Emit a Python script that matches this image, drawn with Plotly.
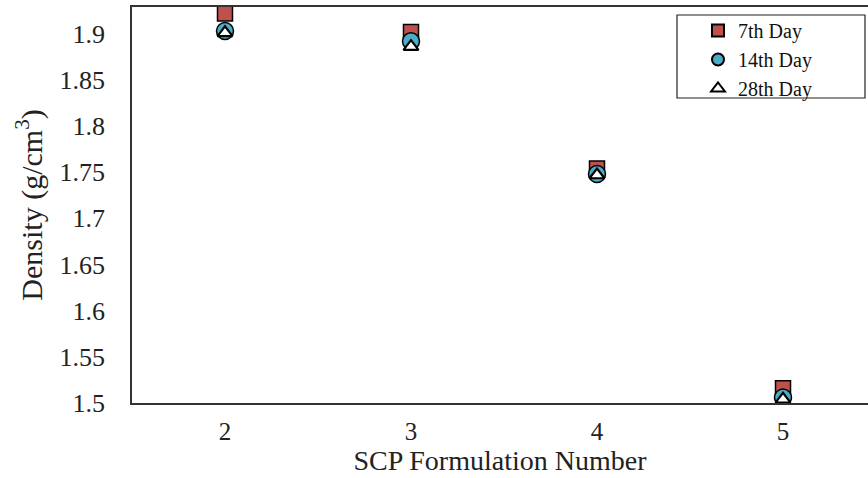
import plotly.graph_objects as go

formulation = [2, 3, 4, 5]
day7 = [1.922, 1.902, 1.754, 1.516]
day14 = [1.903, 1.892, 1.748, 1.506]
day28 = [1.901, 1.886, 1.747, 1.504]
yticks = [1.5, 1.55, 1.6, 1.65, 1.7, 1.75, 1.8, 1.85, 1.9]
yticklabels = ["1.5", "1.55", "1.6", "1.65", "1.7", "1.75", "1.8", "1.85", "1.9"]

font = "Liberation Serif, Times New Roman, serif"

fig = go.Figure()
fig.add_trace(go.Scatter(x=formulation, y=day7, mode="markers", name="7th Day",
                         marker=dict(symbol="square", size=15, color="#C0504D",
                                     line=dict(color="black", width=1.5))))
fig.add_trace(go.Scatter(x=formulation, y=day14, mode="markers", name="14th Day",
                         marker=dict(symbol="circle", size=17, color="#4BACC6",
                                     line=dict(color="black", width=1.5))))
fig.add_trace(go.Scatter(x=formulation, y=day28, mode="markers", name="28th Day",
                         marker=dict(symbol="triangle-up", size=13, color="white",
                                     line=dict(color="black", width=2.2))))

# legend frame (decorative box around the legend entries)
fig.add_shape(type="rect", xref="paper", yref="paper",
              x0=(677 - 132) / 736, x1=(865 - 132) / 736,
              y0=1 - (98 - 7) / 396, y1=1 - (15 - 7) / 396,
              line=dict(color="#222", width=1.2), fillcolor="white", layer="below")

fig.update_layout(
    width=868, height=478,
    margin=dict(l=132, r=0, t=7, b=75),
    paper_bgcolor="white", plot_bgcolor="white",
    font=dict(family=font, color="#222", size=26),
    showlegend=True,
    legend=dict(x=(698 - 132) / 736, y=0.99, xanchor="left", yanchor="top",
                borderwidth=0, bgcolor="rgba(0,0,0,0)",
                font=dict(family=font, size=20, color="#111"),
                tracegroupgap=0, itemsizing="constant"),
    xaxis=dict(range=[1.5, 5.457], tickvals=formulation, ticks="",
               showgrid=False, zeroline=False,
               showline=True, linecolor="#333", linewidth=1.5, mirror=True,
               title=dict(text="SCP Formulation Number", font=dict(size=28), standoff=4),
               tickfont=dict(size=25), ticklabelstandoff=5),
    yaxis=dict(range=[1.5, 1.929], tickvals=yticks, ticktext=yticklabels, ticks="",
               showgrid=False, zeroline=False,
               showline=True, linecolor="#333", linewidth=1.5,
               title=dict(text="Density (g/cm<sup>3</sup>)", font=dict(size=30), standoff=8),
               tickfont=dict(size=26), ticklabelstandoff=20),
)

fig.write_html("out.html")
